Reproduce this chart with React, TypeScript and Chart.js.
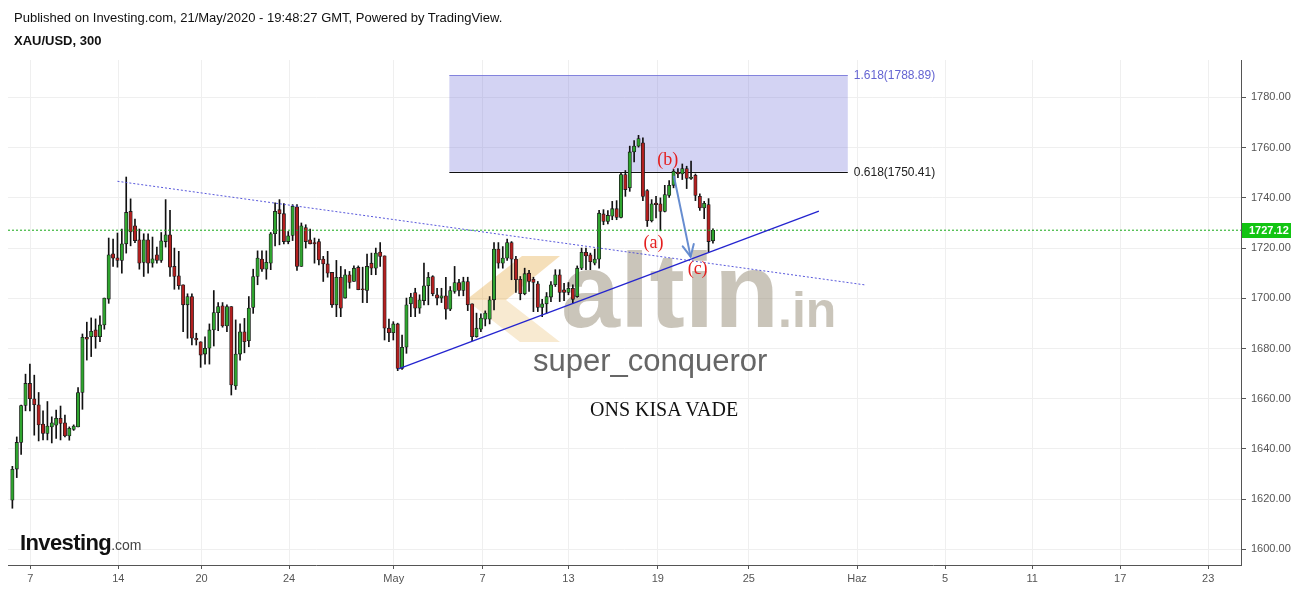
import React, { useEffect, useRef } from "react";
import { Chart, registerables } from "chart.js";
Chart.register(...registerables);

// ---- Candle data (XAU/USD, 300-minute candles) ----
const opens = [
  1619.6, 1632.0, 1642.6, 1657.3, 1666.1, 1660.0, 1657.6, 1649.9, 1646.2, 1648.8,
  1649.5, 1652.2, 1650.4, 1645.2, 1647.8, 1648.8, 1662.5, 1684.5, 1684.7, 1687.4,
  1684.7, 1689.4, 1699.7, 1717.7, 1716.1, 1715.1, 1721.7, 1734.6, 1728.9, 1723.3,
  1714.3, 1723.3, 1714.0, 1717.3, 1715.1, 1722.6, 1725.3, 1712.7, 1709.0, 1705.4,
  1697.4, 1700.7, 1684.1, 1682.7, 1677.8, 1680.1, 1687.4, 1694.3, 1697.0, 1689.0,
  1696.7, 1665.1, 1677.8, 1686.7, 1683.1, 1696.4, 1708.7, 1715.6, 1711.6, 1714.0,
  1725.7, 1735.3, 1733.7, 1722.6, 1725.0, 1736.4, 1712.7, 1728.2, 1723.3, 1722.2,
  1722.6, 1715.6, 1713.7, 1710.3, 1697.4, 1708.4, 1700.1, 1709.4, 1706.7, 1712.3,
  1703.6, 1703.1, 1714.0, 1712.0, 1718.4, 1716.9, 1688.1, 1686.3, 1689.8, 1672.1,
  1680.5, 1697.8, 1702.3, 1696.1, 1699.1, 1705.0, 1708.7, 1701.4, 1700.1, 1701.0,
  1695.7, 1702.7, 1706.3, 1703.1, 1706.7, 1697.8, 1684.7, 1687.7, 1691.7, 1691.7,
  1699.4, 1719.6, 1714.0, 1716.0, 1722.2, 1715.6, 1707.6, 1701.8, 1710.0, 1707.6,
  1705.8, 1696.4, 1697.8, 1700.5, 1705.4, 1709.4, 1703.4, 1702.3, 1704.0, 1700.7,
  1712.0, 1718.3, 1717.3, 1714.0, 1715.6, 1733.6, 1730.6, 1732.7, 1735.7, 1732.2,
  1749.3, 1744.0, 1758.3, 1760.6, 1761.9, 1742.9, 1730.9, 1737.9, 1737.6, 1734.6,
  1741.0, 1745.0, 1750.3, 1749.5, 1751.7, 1747.7, 1749.0, 1740.6, 1736.0, 1737.3,
  1722.9,
];
const highs = [
  1633.1, 1644.8, 1657.5, 1669.8, 1673.8, 1669.4, 1662.5, 1655.2, 1658.9, 1652.8,
  1655.5, 1657.1, 1653.5, 1648.8, 1649.6, 1664.5, 1685.8, 1690.5, 1692.2, 1691.8,
  1693.0, 1700.1, 1724.0, 1723.6, 1726.0, 1727.6, 1748.3, 1739.6, 1731.6, 1727.6,
  1725.7, 1725.7, 1724.4, 1720.4, 1726.2, 1739.3, 1735.0, 1720.0, 1718.7, 1705.4,
  1701.8, 1701.8, 1686.1, 1682.7, 1684.7, 1689.8, 1703.1, 1698.3, 1698.3, 1697.4,
  1696.7, 1691.4, 1689.8, 1692.0, 1700.7, 1711.6, 1718.9, 1718.9, 1718.9, 1726.2,
  1738.0, 1739.3, 1737.7, 1726.6, 1737.3, 1737.3, 1730.0, 1729.3, 1727.6, 1724.0,
  1723.6, 1716.7, 1718.7, 1710.3, 1715.1, 1712.7, 1711.4, 1710.7, 1712.9, 1712.9,
  1712.4, 1717.6, 1718.0, 1720.0, 1722.2, 1716.9, 1691.7, 1690.7, 1690.1, 1685.4,
  1700.1, 1702.0, 1704.0, 1701.4, 1714.0, 1710.3, 1709.0, 1704.0, 1704.0, 1708.4,
  1704.7, 1712.7, 1707.6, 1708.4, 1708.4, 1697.8, 1694.1, 1693.8, 1695.0, 1700.7,
  1722.2, 1722.2, 1720.6, 1723.6, 1722.6, 1716.7, 1708.7, 1712.0, 1711.1, 1708.4,
  1706.7, 1699.6, 1702.3, 1706.7, 1711.4, 1711.4, 1706.0, 1706.3, 1705.4, 1712.9,
  1720.0, 1720.0, 1718.0, 1719.6, 1735.0, 1735.3, 1734.9, 1738.6, 1738.9, 1749.9,
  1750.9, 1760.6, 1762.8, 1764.9, 1763.9, 1743.3, 1739.3, 1740.6, 1740.0, 1745.0,
  1746.9, 1751.3, 1751.7, 1753.5, 1752.6, 1754.6, 1749.5, 1741.6, 1738.6, 1739.7,
  1727.7,
];
const lows = [
  1616.4, 1628.6, 1637.8, 1655.2, 1655.2, 1645.5, 1643.2, 1643.6, 1643.6, 1642.4,
  1644.2, 1643.6, 1644.8, 1643.5, 1647.4, 1648.8, 1655.8, 1675.4, 1676.8, 1680.1,
  1682.7, 1687.7, 1698.0, 1712.7, 1712.4, 1710.0, 1718.0, 1720.9, 1722.2, 1711.6,
  1708.7, 1710.0, 1712.4, 1714.0, 1714.3, 1720.4, 1708.7, 1703.6, 1703.6, 1686.7,
  1684.1, 1681.4, 1681.4, 1672.5, 1673.8, 1673.8, 1681.0, 1687.1, 1688.5, 1686.7,
  1661.5, 1663.7, 1675.4, 1678.3, 1680.7, 1694.0, 1705.4, 1710.7, 1707.6, 1711.4,
  1720.9, 1721.3, 1721.7, 1721.7, 1723.0, 1711.1, 1712.7, 1720.0, 1721.7, 1714.0,
  1713.3, 1706.7, 1708.4, 1696.4, 1692.7, 1692.7, 1700.1, 1704.0, 1706.7, 1703.4,
  1698.3, 1698.3, 1709.4, 1709.4, 1712.7, 1683.4, 1682.7, 1683.4, 1671.2, 1671.7,
  1678.1, 1692.7, 1692.7, 1694.0, 1697.4, 1697.4, 1701.0, 1697.4, 1698.3, 1691.7,
  1695.1, 1702.0, 1701.0, 1701.0, 1695.1, 1683.1, 1684.5, 1686.7, 1689.0, 1689.8,
  1695.4, 1712.0, 1712.0, 1715.1, 1707.4, 1702.3, 1699.4, 1701.4, 1702.7, 1694.7,
  1694.7, 1692.7, 1694.0, 1698.7, 1704.7, 1698.7, 1699.1, 1701.4, 1698.1, 1700.4,
  1711.4, 1711.4, 1711.4, 1713.3, 1712.0, 1729.3, 1729.6, 1731.3, 1731.3, 1732.0,
  1740.6, 1742.6, 1754.3, 1760.2, 1738.9, 1728.6, 1730.4, 1732.0, 1726.9, 1734.4,
  1740.2, 1744.0, 1748.0, 1747.3, 1743.7, 1747.3, 1738.9, 1735.0, 1731.7, 1718.4,
  1722.0,
];
const closes = [
  1631.9, 1642.6, 1657.3, 1666.1, 1660.0, 1657.6, 1649.6, 1646.2, 1649.1, 1650.4,
  1652.2, 1650.2, 1645.2, 1648.2, 1649.1, 1662.5, 1684.5, 1683.7, 1686.9, 1684.7,
  1689.4, 1700.1, 1717.3, 1716.0, 1715.1, 1721.7, 1734.2, 1726.4, 1723.0, 1714.0,
  1723.3, 1714.0, 1715.7, 1715.1, 1722.9, 1725.3, 1712.4, 1708.7, 1705.0, 1697.4,
  1700.7, 1684.1, 1683.4, 1677.4, 1680.1, 1687.4, 1694.3, 1696.7, 1689.0, 1696.7,
  1665.5, 1677.8, 1686.7, 1682.7, 1696.1, 1708.7, 1716.0, 1711.6, 1714.3, 1725.7,
  1734.6, 1733.7, 1722.6, 1724.9, 1736.6, 1712.7, 1728.9, 1722.6, 1721.7, 1721.7,
  1715.3, 1713.7, 1710.0, 1697.4, 1708.4, 1696.1, 1709.4, 1706.3, 1712.0, 1703.4,
  1703.4, 1712.7, 1712.0, 1718.0, 1716.7, 1688.1, 1686.3, 1689.8, 1672.1, 1680.5,
  1697.4, 1700.5, 1696.1, 1699.4, 1705.0, 1708.4, 1701.8, 1700.1, 1701.0, 1695.7,
  1703.1, 1706.3, 1703.1, 1706.7, 1697.4, 1684.7, 1688.1, 1692.1, 1694.1, 1699.4,
  1719.6, 1714.0, 1716.0, 1722.2, 1715.6, 1707.4, 1701.8, 1709.8, 1706.7, 1706.3,
  1696.4, 1697.8, 1700.7, 1705.4, 1709.4, 1702.3, 1702.3, 1704.0, 1699.6, 1712.0,
  1718.3, 1716.9, 1714.6, 1715.6, 1733.9, 1730.6, 1733.0, 1735.7, 1732.2, 1749.3,
  1743.3, 1758.3, 1760.6, 1763.6, 1740.6, 1730.9, 1737.6, 1737.3, 1734.6, 1741.3,
  1745.0, 1750.6, 1749.5, 1751.7, 1747.7, 1748.3, 1741.0, 1736.0, 1737.8, 1722.6,
  1727.12,
];

// ---- Axes ----
const xTickPositions = [4.1, 24.2, 43.2, 63.2, 87.1, 107.4, 127, 147.4, 168.2, 192.9, 213, 232.9, 253, 273.1];
const xTickLabels = ["7", "14", "20", "24", "May", "7", "13", "19", "25", "Haz", "5", "11", "17", "23"];
const yTickValues = [1600, 1620, 1640, 1660, 1680, 1700, 1720, 1740, 1760, 1780];
const xRange = [-1, 280.6];
const yRange = [1593.8, 1794.9];

// ---- Drawings ----
const lastPrice = 1727.12;
const fibLevels = [1750.41, 1788.89];
const fibLabels = ["0.618(1750.41)", "1.618(1788.89)"];
const fibRangeX = [99.8, 190.8];
const resistanceLine = [{ x: 24.0, y: 1746.6 }, { x: 194.9, y: 1705.3 }];
const supportLine = [{ x: 88.2, y: 1671.9 }, { x: 184.2, y: 1734.7 }];
const arrowPath = [{ x: 151.1, y: 1748.5 }, { x: 154.9, y: 1716.6 }];
const waveLabelText = ["(a)", "(b)", "(c)"];
const waveLabelX = [146.4, 149.7, 156.5];
const waveLabelY = [1722.1, 1755.1, 1711.7];

const GREEN = "#2fa52f";
const RED = "#b31f1f";

const overlayPlugin = {
  id: "overlay",
  beforeDatasetsDraw(chart: any) {
    const { ctx, scales } = chart;
    const x = scales.x;
    const y = scales.y;
    ctx.save();
    // watermark logo
    ctx.fillStyle = "rgba(228,172,72,0.38)";
    ctx.beginPath();
    ctx.moveTo(466, 300); ctx.lineTo(522, 256); ctx.lineTo(560, 256); ctx.lineTo(506, 300);
    ctx.closePath(); ctx.fill();
    ctx.fillStyle = "rgba(228,172,72,0.25)";
    ctx.beginPath();
    ctx.moveTo(466, 300); ctx.lineTo(506, 300); ctx.lineTo(560, 342); ctx.lineTo(520, 342);
    ctx.closePath(); ctx.fill();
    ctx.fillStyle = "rgba(150,140,118,0.5)";
    ctx.textBaseline = "alphabetic";
    ctx.textAlign = "left";
    ctx.font = "bold 106px 'Liberation Sans', Arial, sans-serif";
    ctx.fillText("altin", 561, 327);
    ctx.font = "bold 50px 'Liberation Sans', Arial, sans-serif";
    ctx.fillText(".in", 778, 327);

    // fib box
    const x0 = x.getPixelForValue(fibRangeX[0]);
    const x1 = x.getPixelForValue(fibRangeX[1]);
    const yLo = y.getPixelForValue(fibLevels[0]);
    const yHi = y.getPixelForValue(fibLevels[1]);
    ctx.fillStyle = "rgba(120,120,220,0.33)";
    ctx.fillRect(x0, yHi, x1 - x0, yLo - yHi);
    ctx.lineWidth = 1;
    ctx.strokeStyle = "rgba(110,110,215,0.8)";
    ctx.beginPath(); ctx.moveTo(x0, Math.round(yHi) + 0.5); ctx.lineTo(x1, Math.round(yHi) + 0.5); ctx.stroke();
    ctx.strokeStyle = "#111";
    ctx.beginPath(); ctx.moveTo(x0, Math.round(yLo) + 0.5); ctx.lineTo(x1, Math.round(yLo) + 0.5); ctx.stroke();
    ctx.font = "12px 'Liberation Sans', Arial, sans-serif";
    ctx.textBaseline = "middle";
    ctx.fillStyle = "#222";
    ctx.fillText(fibLabels[0], x1 + 6, yLo + 1);
    ctx.fillStyle = "#6464d2";
    ctx.fillText(fibLabels[1], x1 + 6, yHi + 1);
    ctx.restore();
  },
  afterDatasetsDraw(chart: any) {
    const { ctx, scales } = chart;
    const x = scales.x;
    const y = scales.y;
    ctx.save();
    // arrow
    const ax0 = x.getPixelForValue(arrowPath[0].x);
    const ay0 = y.getPixelForValue(arrowPath[0].y);
    const ax1 = x.getPixelForValue(arrowPath[1].x);
    const ay1 = y.getPixelForValue(arrowPath[1].y);
    ctx.strokeStyle = "rgba(95,135,205,0.95)";
    ctx.lineWidth = 2;
    ctx.lineCap = "round";
    ctx.beginPath(); ctx.moveTo(ax0, ay0); ctx.lineTo(ax1, ay1); ctx.stroke();
    const ang = Math.atan2(ay1 - ay0, ax1 - ax0);
    const len = 13;
    ctx.beginPath();
    ctx.moveTo(ax1 - len * Math.cos(ang - 0.45), ay1 - len * Math.sin(ang - 0.45));
    ctx.lineTo(ax1, ay1);
    ctx.lineTo(ax1 - len * Math.cos(ang + 0.45), ay1 - len * Math.sin(ang + 0.45));
    ctx.stroke();
    // wave labels
    ctx.font = "18px 'Liberation Serif', 'Times New Roman', serif";
    ctx.fillStyle = "#e41e1e";
    ctx.textAlign = "center";
    ctx.textBaseline = "middle";
    waveLabelText.forEach((t, i) => {
      ctx.fillText(t, x.getPixelForValue(waveLabelX[i]), y.getPixelForValue(waveLabelY[i]));
    });
    ctx.restore();
  },
  afterDraw(chart: any) {
    const { ctx, scales, chartArea } = chart;
    const y = scales.y;
    const py = y.getPixelForValue(lastPrice);
    ctx.save();
    ctx.fillStyle = "#12c412";
    ctx.fillRect(chartArea.right + 1, Math.round(py) - 7, 49, 15);
    ctx.fillStyle = "#ffffff";
    ctx.font = "bold 11px 'Liberation Sans', Arial, sans-serif";
    ctx.textBaseline = "middle";
    ctx.textAlign = "left";
    ctx.fillText(lastPrice.toFixed(2), chartArea.right + 8, Math.round(py) + 0.5);
    ctx.restore();
  },
};

export default function App() {
  const ref = useRef<HTMLCanvasElement>(null);
  useEffect(() => {
    const canvas = ref.current;
    if (!canvas) return;
    const idx = opens.map((_, i) => i);
    const up = idx.map((i) => closes[i] >= opens[i]);
    const chart = new Chart(canvas, {
      type: "bar",
      data: {
        datasets: [
          {
            type: "line",
            label: "resistance",
            data: resistanceLine,
            borderColor: "rgba(70,70,215,0.9)",
            borderWidth: 1,
            borderDash: [2, 2],
            pointRadius: 0,
            order: 0,
          } as any,
          {
            type: "line",
            label: "support",
            data: supportLine,
            borderColor: "#2424cf",
            borderWidth: 1.3,
            pointRadius: 0,
            order: 0,
          } as any,
          {
            type: "line",
            label: "last",
            data: [{ x: xRange[0], y: lastPrice }, { x: xRange[1], y: lastPrice }],
            borderColor: "#14a814",
            borderWidth: 1,
            borderDash: [2, 2],
            pointRadius: 0,
            order: 0,
          } as any,
          {
            type: "bar",
            label: "body",
            data: idx.map((i) => ({ x: i, y: [opens[i], closes[i]] })),
            backgroundColor: up.map((u) => (u ? GREEN : RED)),
            borderColor: "#1c1c1c",
            borderWidth: 0.8,
            borderSkipped: false,
            barThickness: 3.4,
            grouped: false,
            minBarLength: 1,
            order: 1,
          } as any,
          {
            type: "bar",
            label: "wick",
            data: idx.map((i) => ({ x: i, y: [lows[i], highs[i]] })),
            backgroundColor: "#111",
            barThickness: 1,
            grouped: false,
            order: 2,
          } as any,
        ],
      },
      options: {
        animation: false,
        responsive: false,
        devicePixelRatio: 1,
        layout: { padding: { left: 8, top: 60, right: 0, bottom: 0 } },
        plugins: { legend: { display: false }, tooltip: { enabled: false } },
        scales: {
          x: {
            type: "linear",
            min: xRange[0],
            max: xRange[1],
            offset: false,
            grid: { offset: false, color: "#efefef", tickColor: "#555", tickLength: 4 },
            border: { color: "#555" },
            afterBuildTicks: (axis: any) => {
              axis.ticks = xTickPositions.map((v) => ({ value: v }));
            },
            afterFit: (s: any) => {
              s.height = 24;
            },
            ticks: {
              autoSkip: false,
              maxRotation: 0,
              padding: 3,
              color: "#555",
              font: { family: "'Liberation Sans', Arial, sans-serif", size: 11 },
              callback: (_v: any, i: number) => xTickLabels[i],
            },
          },
          y: {
            type: "linear",
            position: "right",
            min: yRange[0],
            max: yRange[1],
            grid: { color: "#efefef", tickColor: "#555", tickLength: 5 },
            border: { color: "#555" },
            afterBuildTicks: (axis: any) => {
              axis.ticks = yTickValues.map((v) => ({ value: v }));
            },
            afterFit: (s: any) => {
              s.width = 58;
            },
            ticks: {
              padding: 5,
              color: "#555",
              font: { family: "'Liberation Sans', Arial, sans-serif", size: 11 },
              callback: (v: any) => Number(v).toFixed(2),
            },
          },
        },
      } as any,
      plugins: [overlayPlugin],
    });
    return () => chart.destroy();
  }, []);

  const base: React.CSSProperties = {
    position: "absolute",
    fontFamily: "'Liberation Sans', Arial, sans-serif",
    whiteSpace: "nowrap",
  };

  return (
    <div style={{ position: "fixed", left: 0, top: 0, width: 1299, height: 589, background: "#fff", overflow: "hidden" }}>
      <canvas ref={ref} width={1299} height={589} style={{ position: "absolute", left: 0, top: 0, width: 1299, height: 589 }} />
      <div style={{ ...base, left: 14, top: 10, fontSize: 13, lineHeight: "15px", color: "#111" }}>
        Published on Investing.com, 21/May/2020 - 19:48:27 GMT, Powered by TradingView.
      </div>
      <div style={{ ...base, left: 14, top: 33, fontSize: 13, lineHeight: "15px", fontWeight: "bold", color: "#111" }}>
        XAU/USD, 300
      </div>
      <div style={{ ...base, left: 533, top: 343, fontSize: 31, lineHeight: "36px", color: "#666" }}>
        super_conqueror
      </div>
      <div style={{ ...base, left: 590, top: 398, fontSize: 20, lineHeight: "22px", color: "#111", fontFamily: "'Liberation Serif', 'Times New Roman', serif" }}>
        ONS KISA VADE
      </div>
      <div style={{ ...base, left: 20, top: 531, fontSize: 22, lineHeight: "24px", color: "#111", fontWeight: "bold", letterSpacing: "-0.6px" }}>
        Investing<span style={{ fontWeight: "normal", fontSize: 14, color: "#444", letterSpacing: 0 }}>.com</span>
      </div>
    </div>
  );
}
